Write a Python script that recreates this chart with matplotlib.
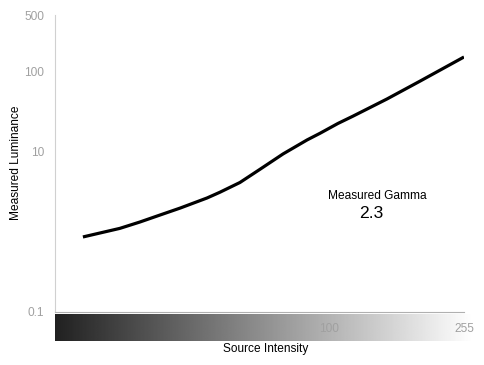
import numpy as np
import matplotlib
matplotlib.use("Agg")
import matplotlib.pyplot as plt
from matplotlib.ticker import NullLocator, FixedLocator, FixedFormatter

plt.rcParams['font.family'] = ['Liberation Sans', 'DejaVu Sans']

# Data (log-log measured response)
source_intensity = [18.2, 23.5, 27.0, 31.0, 35.7, 43.0, 47.0, 54.0, 62.1, 72.8,
                    86.0, 94.0, 106.5, 118.2, 149.6, 188.0, 255.0]
measured_luminance = [0.86, 1.10, 1.32, 1.61, 1.97, 2.63, 3.10, 4.10, 6.00, 9.30,
                      13.9, 16.8, 22.3, 27.5, 45.0, 75.0, 150.0]
y_ticks = [0.1, 10, 100, 500]
y_tick_labels = ["0.1", "10", "100", "500"]
x_ticks = [100, 255]
x_tick_labels = ["100", "255"]
gamma_value = "2.3"

W, H = 484, 365
fig = plt.figure(figsize=(W / 100, H / 100), dpi=100)
fig.patch.set_facecolor("white")

# gradient bar
gax = fig.add_axes([55 / W, (H - 341) / H, (473 - 55) / W, 27 / H])
grad = np.linspace(0.13, 1.0, 512).reshape(1, -1)
gax.imshow(grad, cmap="gray", vmin=0, vmax=1, aspect="auto", extent=[0, 1, 0, 1])
gax.set_axis_off()

ax = fig.add_axes([55 / W, (H - 312) / H, (464 - 55) / W, (312 - 15) / H])
ax.patch.set_alpha(0)
ax.set_xscale("log")
ax.set_yscale("log")
ax.set_xlim(15, 255)
ax.set_ylim(0.1, 500)
ax.plot(source_intensity, measured_luminance, color="black", lw=2.3,
        solid_capstyle="butt", solid_joinstyle="round")

ax.yaxis.set_major_locator(FixedLocator(y_ticks))
ax.yaxis.set_major_formatter(FixedFormatter(y_tick_labels))
ax.yaxis.set_minor_locator(NullLocator())
ax.xaxis.set_major_locator(FixedLocator(x_ticks))
ax.xaxis.set_major_formatter(FixedFormatter(x_tick_labels))
ax.xaxis.set_minor_locator(NullLocator())
ax.tick_params(axis="y", length=0, pad=8, labelsize=8.6, labelcolor="#a0a0a0")
ax.tick_params(axis="x", length=0, pad=8, labelsize=8.6, labelcolor="#a0a0a0")

for s in ["top", "right"]:
    ax.spines[s].set_visible(False)
ax.spines["left"].set_color("#d0d0d0")
ax.spines["left"].set_linewidth(0.8)
ax.spines["bottom"].set_color("#b0b0b0")
ax.spines["bottom"].set_linewidth(0.8)

fig.text(266 / W, (H - 349) / H, "Source Intensity", ha="center", va="center",
         fontsize=8.6, color="black")
fig.text(16 / W, (H - 163) / H, "Measured Luminance", ha="center", va="center",
         rotation=90, fontsize=8.6, color="black")
fig.text(377.5 / W, (H - 196) / H, "Measured Gamma", ha="center", va="center",
         fontsize=8.6, color="black")
fig.text(371 / W, (H - 213) / H, gamma_value, ha="center", va="center",
         fontsize=12.6, color="black")

fig.savefig("out.png", dpi=100, facecolor="white")
